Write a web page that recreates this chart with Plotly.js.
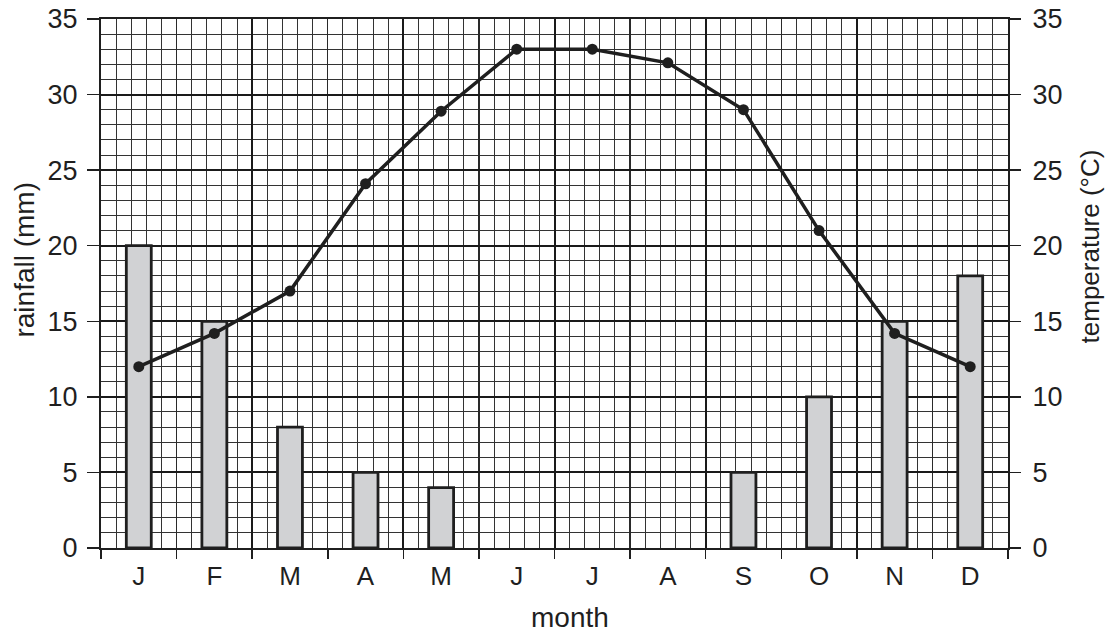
<!DOCTYPE html>
<html>
<head>
<meta charset="utf-8">
<script src="https://cdn.plot.ly/plotly-3.0.1.min.js"></script>
<style>html,body{margin:0;padding:0;background:#fff;}#chart{width:1112px;height:635px;}</style>
</head>
<body>
<div id="chart"></div>
<script>
const months = ["J","F","M","A","M","J","J","A","S","O","N","D"];
const rainfall = [20, 15, 8, 5, 4, 0, 0, 0, 5, 10, 15, 18];
const temperature = [12, 14.2, 17, 24.1, 28.9, 33, 33, 32.1, 29, 21, 14.2, 12];
const monthIndex = months.map((m, i) => i);
const xTitle = "month";
const yTitle = "rainfall (mm)";
const y2Title = "temperature (°C)";

const FONT = "Liberation Sans, Arial, sans-serif";
const INK = "#1f1f1f";
const YTICKFONT = 27;
const XTICKFONT = 26;

const traces = [
  {
    type: "bar",
    x: monthIndex,
    y: rainfall,
    xaxis: "x",
    yaxis: "y",
    width: 0.33,
    marker: {
      color: "#d1d2d4",
      line: { color: INK, width: rainfall.map(v => (v > 0 ? 2.8 : 0)) }
    },
    hoverinfo: "skip",
    showlegend: false
  },
  {
    type: "scatter",
    mode: "lines+markers",
    x: monthIndex,
    y: temperature,
    xaxis: "x2",
    yaxis: "y2",
    line: { color: INK, width: 3.5 },
    marker: { color: INK, size: 11 },
    cliponaxis: false,
    hoverinfo: "skip",
    showlegend: false
  }
];

const layout = {
  width: 1112,
  height: 635,
  margin: { l: 101, r: 104, t: 19, b: 87 },
  paper_bgcolor: "#ffffff",
  plot_bgcolor: "#ffffff",
  font: { family: FONT, size: YTICKFONT, color: INK },
  bargap: 0,
  xaxis: {
    range: [-0.5, 11.5],
    tickmode: "array",
    tickvals: monthIndex,
    ticktext: months,
    ticks: "",
    ticklabelstandoff: 4,
    tickfont: { size: XTICKFONT },
    showgrid: false,
    zeroline: false,
    showline: true,
    linecolor: INK,
    linewidth: 2,
    mirror: true,
    minor: { tick0: -0.5, dtick: 0.2, showgrid: true, gridcolor: "#333333", gridwidth: 1, ticks: "" },
    fixedrange: true
  },
  xaxis2: {
    overlaying: "x",
    anchor: "y",
    side: "bottom",
    range: [-0.5, 11.5],
    tickmode: "linear",
    tick0: -0.5,
    dtick: 2,
    ticks: "outside",
    ticklen: 10,
    tickwidth: 1.5,
    tickcolor: INK,
    showticklabels: false,
    showgrid: true,
    gridcolor: "#1a1a1a",
    gridwidth: 2,
    zeroline: false,
    showline: false,
    minor: { tick0: -0.5, dtick: 1, ticks: "outside", ticklen: 10, tickwidth: 1.5, tickcolor: INK, showgrid: true, gridcolor: "#2a2a2a", gridwidth: 1.2 },
    fixedrange: true
  },
  yaxis: {
    range: [0, 35],
    tickmode: "linear",
    tick0: 0,
    dtick: 5,
    ticks: "outside",
    ticklen: 12,
    tickwidth: 1.5,
    tickcolor: INK,
    ticklabelstandoff: 4,
    tickfont: { size: YTICKFONT },
    showgrid: true,
    gridcolor: "#1a1a1a",
    gridwidth: 2,
    zeroline: false,
    showline: true,
    linecolor: INK,
    linewidth: 2,
    mirror: true,
    minor: { tick0: 0, dtick: 1, showgrid: true, gridcolor: "#333333", gridwidth: 1, ticks: "" },
    fixedrange: true
  },
  yaxis2: {
    overlaying: "y",
    anchor: "x",
    side: "right",
    range: [0, 35],
    tickmode: "linear",
    tick0: 0,
    dtick: 5,
    ticks: "outside",
    ticklen: 12,
    tickwidth: 1.5,
    tickcolor: INK,
    ticklabelstandoff: 6,
    tickfont: { size: YTICKFONT },
    showgrid: false,
    zeroline: false,
    showline: false,
    fixedrange: true
  },
  annotations: [
    {
      text: xTitle, xref: "paper", yref: "paper", x: 0.517, y: -0.1323,
      xanchor: "center", yanchor: "middle", showarrow: false,
      font: { family: FONT, size: 28, color: INK }
    },
    {
      text: yTitle, xref: "paper", yref: "paper", x: -0.0854, y: 0.5444,
      xanchor: "center", yanchor: "middle", showarrow: false, textangle: -90,
      font: { family: FONT, size: 28, color: INK }
    },
    {
      text: y2Title, xref: "paper", yref: "paper", x: 1.0904, y: 0.570,
      xanchor: "center", yanchor: "middle", showarrow: false, textangle: -90,
      font: { family: FONT, size: 26, color: INK }
    }
  ]
};

Plotly.newPlot("chart", traces, layout, { displayModeBar: false, staticPlot: true });
</script>
</body>
</html>
